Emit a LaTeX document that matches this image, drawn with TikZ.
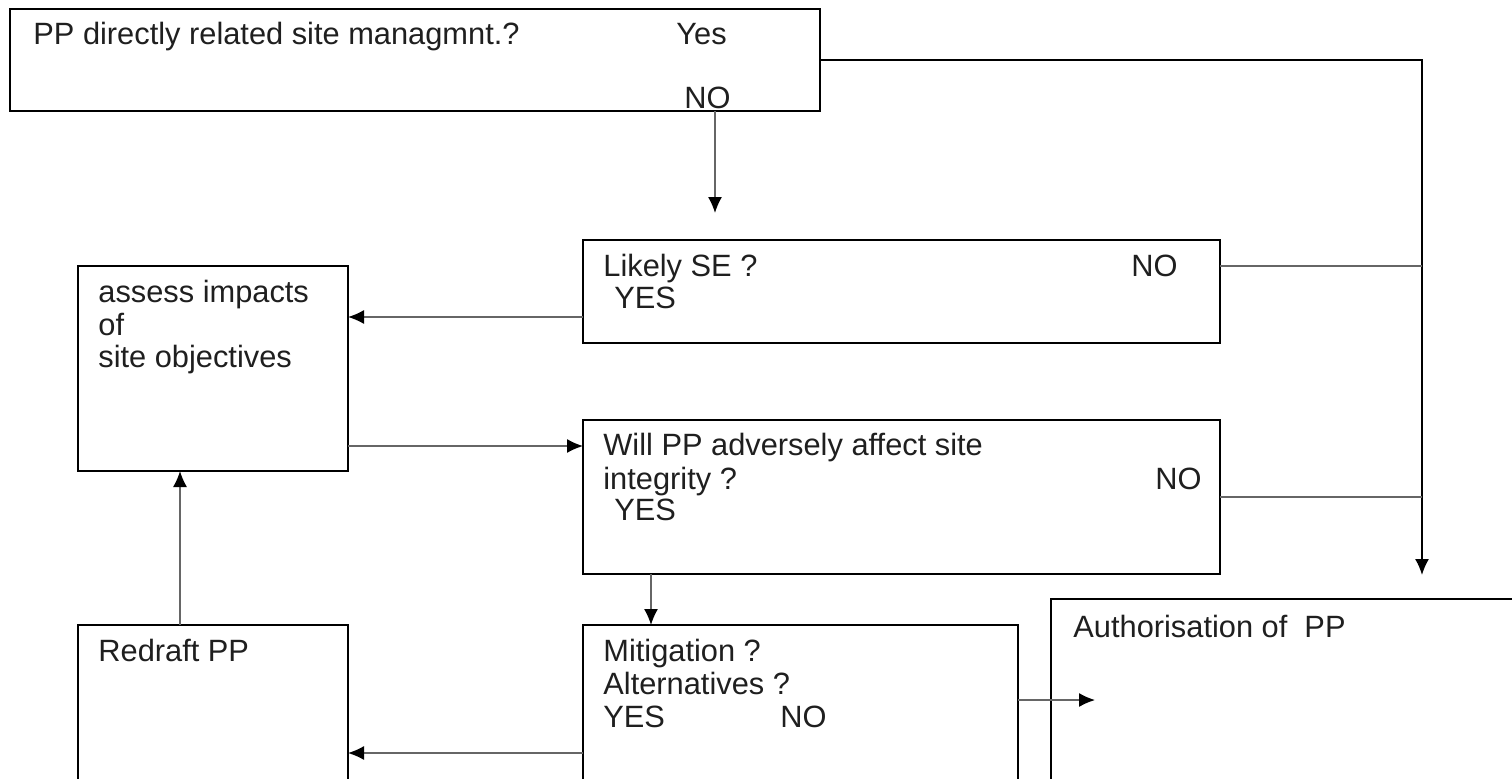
\documentclass[tikz,border=0pt]{standalone}
\usepackage{fontspec}
\setmainfont{Liberation Sans}
\usetikzlibrary{arrows.meta}
\begin{document}
\begin{tikzpicture}[x=0.5pt,y=-0.5pt,
  box/.style={draw=black,line width=1pt,inner sep=0pt,outer sep=0pt,anchor=north west,fill=none},
  txt/.style={anchor=base west,inner sep=0pt,font=\fontsize{15.4}{16.5}\selectfont,text=black!88},
  conn/.style={draw=black!60,line width=0.7pt},
  arr/.style={conn,-{Latex[length=8pt,width=7pt,black]}},
]
\useasboundingbox (0,0) rectangle (1512,778);
\clip (0,0) rectangle (1512,778);

% boxes
\node[box,minimum width=405pt,minimum height=51pt] (top) at (10,9) {};
\node[box,minimum width=318.5pt,minimum height=51.5pt] (lik) at (583,240) {};
\node[box,minimum width=135pt,minimum height=102.5pt] (ass) at (78,266) {};
\node[box,minimum width=318.5pt,minimum height=77pt] (will) at (583,420) {};
\node[box,minimum width=217.5pt,minimum height=100pt] (mit) at (583,625) {};
\node[box,minimum width=135pt,minimum height=100pt] (red) at (78,625) {};
\node[box,minimum width=250pt,minimum height=100pt] (auth) at (1051,599) {};

% texts
\node[txt] (t1) at (33,44) {PP directly related site managmnt.?};
\node[txt] (t1y) at (676,44) {Yes};
\node[txt] (t1n) at (684,108) {NO};
\node[txt] (t2) at (603,276) {Likely SE ?};
\node[txt] (t2n) at (1131,276) {NO};
\node[txt] (t2y) at (614,308) {YES};
\node[txt] (t3a) at (98,302) {assess impacts};
\node[txt] (t3b) at (98,335) {of};
\node[txt] (t3c) at (98,367) {site objectives};
\node[txt] (t4a) at (603,455) {Will PP adversely affect site};
\node[txt] (t4b) at (603,489) {integrity ?};
\node[txt] (t4n) at (1155,489) {NO};
\node[txt] (t4y) at (614,520) {YES};
\node[txt] (t5a) at (603,661) {Mitigation ?};
\node[txt] (t5b) at (603,694) {Alternatives ?};
\node[txt] (t5y) at (603,727) {YES};
\node[txt] (t5n) at (780,727) {NO};
\node[txt] (t6) at (98,661) {Redraft PP};
\node[txt] (t7) at (1073,637) {Authorisation of\ \ PP};

% coordinates
\coordinate (jtop) at (1422,575);
\coordinate (j1) at (1422,266);
\coordinate (j2) at (1422,497);
\coordinate (nohead) at (715,213);
\coordinate (authin) at (1095,700);

% connectors
\draw[arr,draw=black,line width=0.8pt] (top.east) -| (jtop);
\draw[conn] (lik.east |- 0,266) -- (j1);
\draw[conn] (will.east |- 0,497) -- (j2);
\draw[arr] (top.south -| 715,0) -- (nohead);
\draw[arr] (lik.west |- 0,317) -- (ass.east |- 0,317);
\draw[arr] (ass.east |- 0,446) -- (will.west |- 0,446);
\draw[arr] (will.south -| 651,0) -- (mit.north -| 651,0);
\draw[arr] (mit.west |- 0,753) -- (red.east |- 0,753);
\draw[arr] (mit.east |- 0,700) -- (authin);
\draw[arr] (red.north -| 180,0) -- (ass.south -| 180,0);
\end{tikzpicture}
\end{document}
